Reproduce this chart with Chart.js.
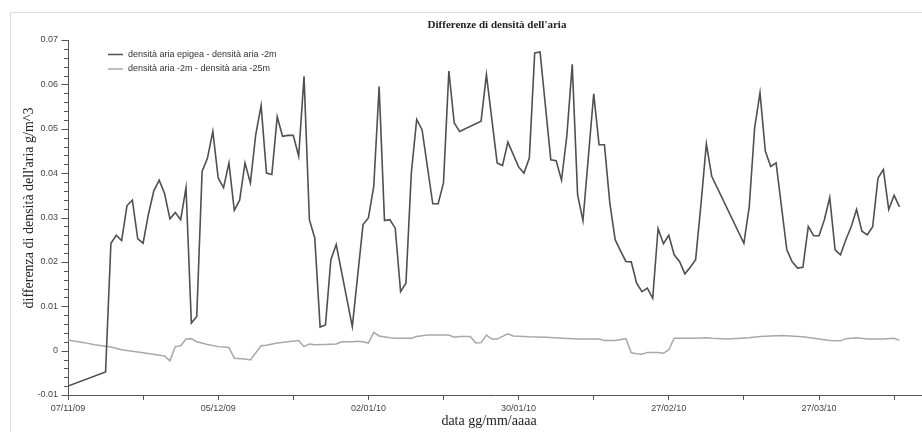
<!DOCTYPE html>
<html>
<head>
<meta charset="utf-8">
<script src="https://cdn.jsdelivr.net/npm/chart.js@4/dist/chart.umd.min.js"></script>
<style>
  body{margin:0;background:#fff;}
  canvas{display:block;}
</style>
</head>
<body>
<canvas id="chart" width="922" height="432"></canvas>
<script>
// giorni dal 07/11/09
const tickLabels=["07/11/09","05/12/09","02/01/10","30/01/10","27/02/10","27/03/10"];
const seriesNames=["densità aria epigea - densità aria -2m","densità aria -2m - densità aria -25m"];

const days1=[0,7,8,9,10,11,12,13,14,15,16,17,18,19,20,21,22,23,24,25,26,27,28,29,30,31,32,33,34,35,36,37,38,39,40,41,42,43,44,45,46,47,48,49,50,53,55,56,57,58,59,60,61,62,63,64,65,66,68,69,70,71,72,73,77,78,80,81,82,84,85,86,87,88,90,91,92,93,94,95,96,98,99,100,101,102,103,104,105,106,107,108,109,110,111,112,113,114,115,116,117,118,119,120,126,127,128,129,130,131,132,133,134,135,136,137,138,139,140,141,142,143,144,145,146,147,148,149,150,151,152,153,154,155];
const epigea=[-0.008,-0.0048,0.0242,0.026,0.0248,0.0327,0.0339,0.0252,0.0242,0.0308,0.036,0.0384,0.0354,0.0297,0.0311,0.0295,0.0367,0.0062,0.0077,0.0404,0.0434,0.0494,0.0389,0.0367,0.0423,0.0316,0.0339,0.0423,0.0378,0.0487,0.0552,0.040,0.0397,0.0527,0.0483,0.0485,0.0485,0.0438,0.0618,0.0295,0.0254,0.0053,0.0058,0.0205,0.0239,0.0054,0.0284,0.0299,0.037,0.0595,0.0293,0.0295,0.0276,0.0133,0.0152,0.040,0.0521,0.0498,0.0331,0.0331,0.0378,0.063,0.0513,0.0494,0.0517,0.0622,0.0423,0.0417,0.047,0.0414,0.040,0.0434,0.0671,0.0673,0.043,0.0428,0.0384,0.0485,0.0645,0.0351,0.0293,0.0579,0.0464,0.0464,0.0333,0.025,0.0225,0.0201,0.020,0.0152,0.0133,0.0141,0.0118,0.0275,0.0241,0.026,0.0216,0.0201,0.0173,0.0188,0.0205,0.033,0.0466,0.0393,0.0242,0.0325,0.0502,0.0581,0.0449,0.0415,0.0423,0.0325,0.0227,0.020,0.0186,0.0188,0.028,0.0259,0.0259,0.0295,0.0345,0.0227,0.0216,0.025,0.0279,0.0318,0.0269,0.0261,0.0279,0.0389,0.0408,0.0318,0.035,0.0324];

const days2=[0,3,5,8,10,14,18,19,20,21,22,23,24,26,28,30,31,33,34,36,37,39,41,43,44,45,46,48,50,51,53,54,55,56,57,58,60,61,64,65,67,71,72,73,75,76,77,78,79,80,82,83,86,89,95,99,100,102,104,105,106,107,108,110,111,112,113,117,119,120,123,127,129,133,137,140,142,144,145,147,149,152,154,155];
const profonda=[0.0024,0.0018,0.0013,0.0008,0.0002,-0.0005,-0.0012,-0.0023,0.0009,0.0011,0.0026,0.0027,0.002,0.0014,0.0009,0.0007,-0.0017,-0.0019,-0.0021,0.0011,0.0012,0.0017,0.002,0.0023,0.0009,0.0015,0.0013,0.0014,0.0015,0.002,0.002,0.0021,0.002,0.0017,0.0041,0.0033,0.0029,0.0028,0.0028,0.0032,0.0035,0.0035,0.003,0.0032,0.0032,0.0017,0.0018,0.0035,0.0026,0.0026,0.0038,0.0033,0.0031,0.003,0.0026,0.0026,0.0023,0.0023,0.0027,-0.0005,-0.0007,-0.0008,-0.0004,-0.0004,-0.0006,0.0002,0.0028,0.0028,0.0029,0.0028,0.0026,0.0029,0.0032,0.0034,0.0031,0.0026,0.0023,0.0022,0.0027,0.0029,0.0026,0.0026,0.0028,0.0023];

const colors=["#505050","#a8a8a8"];

const decor={
    id:"decor",
    beforeDraw(chart){
        const c=chart.ctx;
        c.save();
        c.fillStyle="#fff";
        c.fillRect(0,0,chart.width,chart.height);
        c.strokeStyle="#dddddd";
        c.lineWidth=1;
        c.strokeRect(10.5,12.5,1000,1000);
        c.restore();
    },
    afterDraw(chart){
        const c=chart.ctx;
        const a=chart.chartArea;
        const y=chart.scales.y;
        c.save();
        // tacche asse y
        c.strokeStyle="#555";
        c.lineWidth=1;
        y.ticks.forEach(t=>{
            const py=Math.round(y.getPixelForValue(t.value))+0.5;
            const major=Math.round(t.value*1000)%10===0;
            c.beginPath();
            c.moveTo(a.left,py);
            c.lineTo(a.left-(major?6.5:4),py);
            c.stroke();
        });
        // titolo
        c.fillStyle="#222";
        c.textAlign="center";
        c.textBaseline="middle";
        c.font="bold 11px 'Liberation Serif'";
        c.fillText("Differenze di densità dell'aria",497,25);
        c.font="14px 'Liberation Serif'";
        c.fillText("data gg/mm/aaaa",489,421);
        c.save();
        c.translate(29,208);
        c.rotate(-Math.PI/2);
        c.fillText("differenza di densità dell'aria g/m^3",0,0);
        c.restore();
        // legenda
        c.textAlign="left";
        c.font="9px 'Liberation Sans'";
        const ly=[54.5,69];
        chart.data.datasets.forEach((ds,i)=>{
            c.strokeStyle=ds.borderColor;
            c.lineWidth=1.5;
            c.beginPath();
            c.moveTo(108,ly[i]);
            c.lineTo(123,ly[i]);
            c.stroke();
            c.fillStyle="#333";
            c.fillText(ds.label,128,ly[i]);
        });
        c.restore();
    }
};

new Chart(document.getElementById("chart"),{
    type:"line",
    data:{
        datasets:[
            {label:seriesNames[0],data:days1.map((d,i)=>({x:d,y:epigea[i]})),borderColor:colors[0],borderWidth:1.6,pointRadius:0,tension:0},
            {label:seriesNames[1],data:days2.map((d,i)=>({x:d,y:profonda[i]})),borderColor:colors[1],borderWidth:1.5,pointRadius:0,tension:0}
        ]
    },
    options:{
        responsive:false,
        animation:false,
        layout:{padding:{top:40,left:0,right:0,bottom:0}},
        plugins:{legend:{display:false},title:{display:false},tooltip:{enabled:false}},
        scales:{
            x:{
                type:"linear",
                min:0,max:159.2,
                afterFit:s=>{s.height=37;},
                grid:{drawOnChartArea:false,tickLength:5,tickColor:"#555"},
                border:{color:"#555",width:1},
                ticks:{
                    stepSize:14,autoSkip:false,includeBounds:false,maxRotation:0,padding:3,
                    color:"#444",font:{family:"Liberation Sans",size:9},
                    callback:v=>v%28===0?tickLabels[v/28]:""
                }
            },
            y:{
                min:-0.01,max:0.07,
                afterFit:s=>{s.width=68;},
                grid:{drawOnChartArea:false,drawTicks:false},
                border:{color:"#555",width:1},
                ticks:{
                    stepSize:0.002,autoSkip:false,includeBounds:false,padding:10,
                    color:"#444",font:{family:"Liberation Sans",size:9},
                    callback:v=>{
                        const k=Math.round(v*1000);
                        if(k%10!==0)return "";
                        return k===0?"0":(k/1000).toFixed(2);
                    }
                }
            }
        }
    },
    plugins:[decor]
});
</script>
</body>
</html>
